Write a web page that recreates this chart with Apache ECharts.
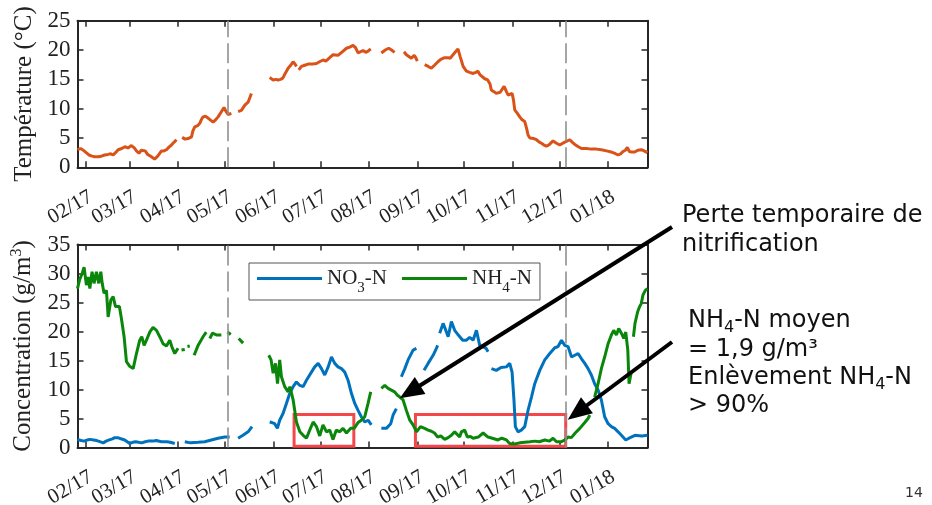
<!DOCTYPE html>
<html><head><meta charset="utf-8">
<script src="https://cdn.jsdelivr.net/npm/echarts@6/dist/echarts.min.js"></script>
<style>html,body{margin:0;padding:0;background:#fff}#c{width:932px;height:505px}</style>
</head><body><div id="c"></div>
<script>
// x values are days counted from 1 Feb 2017
const monthTickDays = [0, 28, 59, 89, 120, 150, 181, 212, 242, 273, 303, 334];
const monthTickLabels = ['02/17','03/17','04/17','05/17','06/17','07/17','08/17','09/17','10/17','11/17','12/17','01/18'];
const eventDays = [91, 307];
const boxDays = [[133.2, 171.4], [210.8, 306.9]];
const boxValues = [0.2, 5.7];
const arrowTips = [[200.8, 8.5], [308.2, 4.8]];

const tempData = [[-5.3,3.0],[-3.4,3.2],[-1.5,2.9],[-0.5,2.6],[2,2.1],[4,1.9],[5.7,1.8],[8,1.8],[10,1.9],[12,2.1],[14.3,2.2],[16,2.3],[17.5,2.1],[19,2.5],[20.7,3.0],[23,3.2],[25,3.5],[27,3.3],[29.2,3.7],[31,3.3],[32.4,2.8],[34,2.4],[35.5,2.9],[36.6,3.2],[38,2.8],[39.5,2.2],[42,1.8],[44,1.4],[46,1.9],[48.4,2.8],[50,2.8],[51.6,3.0],[53,3.4],[54.8,3.8],[56.5,4.3],[58,4.7],[59,null],[61.6,5.1],[63.5,4.8],[65.4,4.9],[67.6,5.2],[68.5,6.2],[69.7,6.9],[71.5,7.1],[72.9,7.5],[74,8.2],[75,8.6],[76.5,8.7],[78.2,8.4],[80,8.0],[81.4,7.7],[83,8.1],[84.6,8.6],[86.5,9.4],[88.4,10.2],[89.5,9.6],[91,9.0],[93.1,9.2],[95,null],[97.4,9.5],[99.5,9.7],[101.7,10.6],[103.8,11.1],[105.9,12.6],[107,null],[117.6,15.3],[119.8,14.9],[121.5,15.0],[123,14.9],[124.5,15.0],[126,15.2],[127.5,16.0],[129.4,16.9],[131,17.4],[132.6,18.0],[133.8,17.6],[134.7,17.2],[135.5,null],[136.2,16.6],[137.9,17.2],[140,17.4],[142.2,17.6],[145,17.6],[147.5,17.7],[149.5,18.0],[151.7,18.3],[153.5,18.1],[156,18.7],[158.1,19.2],[161.3,19.1],[164,19.7],[166.7,20.3],[168.8,20.5],[170.9,20.8],[172.5,20.4],[174.1,19.5],[175.5,19.7],[177.3,19.9],[179,19.6],[180.5,19.8],[182.2,20.2],[183.5,null],[189,19.5],[191.5,20.0],[193.7,20.3],[195.5,20.0],[197.5,19.6],[199,null],[203.5,19.7],[205,19.2],[206,18.9],[208.2,18.6],[210,19.1],[211,18.7],[212,18.1],[213.5,null],[216.7,17.5],[219,17.2],[221,16.9],[223,17.4],[225.2,18.0],[227,18.4],[229.5,18.7],[231.5,18.7],[233,18.6],[235.5,19.4],[238,20.2],[239.5,18.8],[241.3,17.2],[243.4,16.4],[245.5,16.2],[247.7,16.0],[249.5,16.2],[250.8,16.4],[252,15.8],[253,15.5],[255.1,15.1],[257,14.9],[258.5,14.2],[259.3,13.2],[261,12.9],[262.5,12.6],[265,12.8],[267.5,13.8],[269,12.9],[270.1,12.3],[272.6,12.6],[273.5,11.5],[274.3,9.8],[276,9.2],[277.5,8.6],[279,8.1],[280.7,7.8],[282,6.5],[282.8,5.5],[284,5.0],[285,4.9],[286.5,4.9],[288.2,4.7],[290,4.3],[291.4,4.1],[293,3.8],[294.6,3.6],[296.5,3.9],[298.8,4.5],[301,4.1],[303.1,3.8],[305,4.1],[306.3,4.3],[307.5,4.4],[309.5,4.7],[311,4.3],[312.7,3.9],[315,3.5],[317,3.2],[320,3.2],[323.3,3.1],[326.5,3.1],[329.7,3.0],[333,2.8],[336.1,2.6],[338,2.4],[340.4,2.1],[342,2.3],[343.6,2.7],[345,2.9],[346.3,3.4],[347.5,2.7],[349,2.6],[351,2.6],[353,2.9],[355.3,3.0],[357,2.8],[358.5,2.6],[359.2,2.5]];

const no3Data = [[-5.3,1.4],[-3,1.2],[-1,1.1],[1,1.3],[2.6,1.4],[5,1.3],[7,1.2],[9,1.0],[11.1,0.8],[13,1.1],[15,1.3],[17,1.5],[18.5,1.7],[20.5,1.7],[22.5,1.5],[24.9,1.3],[26.5,1.0],[28.1,0.7],[30,0.9],[32,1.0],[35.6,0.8],[38,1.0],[39.8,1.1],[43,1.1],[45,1.2],[48.4,1.0],[52,1.0],[54,0.9],[56.9,0.7],[58.5,null],[63.3,1.0],[67,0.8],[71.8,0.9],[76,1.0],[80.3,1.3],[84.6,1.6],[88.9,1.8],[92,1.8],[94,null],[97.4,1.6],[100.5,2.1],[103.8,2.7],[106.3,3.6],[107.5,null],[117.6,4.4],[119,4.3],[120.8,4.1],[122.5,3.3],[124,4.7],[126.2,5.9],[128.3,7.6],[130.4,9.3],[132.6,10.5],[134.7,11.3],[136.9,10.7],[139,10.5],[141.1,11.6],[144.3,13.0],[146.4,13.9],[148.6,14.5],[150.7,13.6],[152.8,12.5],[155,13.9],[157.1,15.6],[159.2,14.5],[161.3,13.9],[163.5,13.6],[165.6,13.0],[167.7,11.6],[169.9,9.3],[172,7.6],[174.1,6.4],[176.2,5.3],[178.4,4.4],[180.5,4.7],[182.6,3.9],[184,null],[189,3.3],[192.2,3.3],[195,4.1],[196.5,5.6],[198.6,6.7],[200,null],[201.8,12.2],[204,13.6],[206.1,15.1],[209.3,16.8],[211.4,17.1],[213,null],[216.3,13.3],[218.9,14.5],[222.1,15.9],[224.2,17.1],[225,17.6],[225.7,null],[226.3,19.7],[228.5,21.4],[229.8,20.5],[231.7,19.1],[233.8,21.7],[235.9,20.2],[238.5,19.3],[241,18.5],[243.4,18.5],[245.5,19.0],[247.7,18.5],[249.8,20.2],[251.9,17.6],[254,17.4],[256,17.1],[257.2,16.5],[258.3,null],[259.4,13.6],[262.5,13.3],[265.5,13.8],[269,13.9],[271.1,14.5],[272.6,13.0],[273.8,8.2],[274.7,3.6],[276.4,2.7],[278.5,3.0],[280.7,3.6],[282.8,6.4],[285,8.7],[287.1,11.0],[290.3,13.3],[293.5,15.1],[296.7,16.2],[299.9,17.2],[302,17.4],[304.2,18.5],[306.3,17.6],[308.4,17.4],[310.6,15.6],[312.7,15.9],[314.8,16.2],[317,15.3],[319.1,14.5],[321.2,13.6],[323.3,12.5],[325.4,11.0],[327.6,9.9],[329.7,8.2],[331.8,5.3],[334,4.1],[336.1,3.6],[338.2,3.3],[340.4,2.7],[342.5,2.1],[345.3,1.3],[347.4,1.6],[351.2,2.1],[355.5,2.0],[359.2,2.1]];

const nh4Data = [[-5.3,27.4],[-4,28.9],[-2.3,30.0],[-1.1,31.1],[0.4,28.0],[1.5,29.4],[2.6,27.4],[4,30.3],[5.3,28.3],[6.8,30.3],[8.3,28.3],[9.6,30.3],[10.5,28.3],[11.7,26.6],[13.2,27.1],[14.3,22.5],[16,25.4],[17.5,26.0],[19,24.3],[20.2,24.0],[21.5,24.3],[22.8,22.2],[24.5,19.1],[26,14.8],[28.1,14.0],[30.3,13.6],[32.4,16.2],[34.5,18.5],[35.8,19.1],[37.3,17.6],[38.8,18.5],[40.9,19.9],[43,20.7],[45.2,20.2],[47.3,19.1],[49.4,17.9],[51.6,17.5],[53.7,18.5],[55,17.4],[56.9,16.2],[59,17.1],[60,null],[61.2,16.8],[63.3,16.9],[64,null],[65,17.4],[66.5,17.5],[67.5,null],[69.3,15.9],[71.8,17.6],[75,19.1],[77,19.9],[78,null],[79.3,18.8],[81,19.7],[83.5,19.4],[86.7,19.4],[88,null],[90.6,19.9],[92.7,19.5],[94,null],[97.8,18.8],[100.6,18.0],[102,null],[117,15.9],[118.5,15.1],[119.8,12.8],[121.3,14.5],[122.6,11.0],[124,15.1],[125.1,12.2],[127.2,10.5],[129.4,9.6],[130.5,10.5],[132.6,8.2],[134.7,4.4],[136.9,2.7],[139,2.1],[141.1,1.6],[143.2,3.0],[145.4,4.4],[147.5,3.6],[149.6,2.0],[151.7,3.9],[153.9,2.7],[156,3.0],[158.1,1.4],[160.2,3.0],[162.4,2.7],[164.5,3.3],[166.7,2.5],[169.4,3.3],[171.6,3.3],[174.1,4.3],[176.2,4.7],[178.4,5.3],[180.5,7.6],[182.2,9.6],[183.5,null],[189,10.2],[191.2,10.7],[193.3,10.2],[195.4,9.9],[197.5,9.6],[199.3,9.0],[200.8,8.7],[202.9,8.2],[205,6.4],[207.2,4.7],[209.3,3.9],[211.5,2.7],[214,3.6],[216.7,3.3],[218.9,3.0],[221,2.8],[223,2.5],[225,1.8],[227,2.0],[229.5,1.4],[231.7,1.7],[233.8,2.1],[235.9,2.7],[237,2.4],[239.1,1.8],[240.2,2.7],[242.3,3.0],[244,1.8],[246,1.9],[247.7,1.6],[251,1.8],[254.1,2.5],[257.2,1.8],[260,1.6],[263.6,1.3],[266,1.6],[269,1.3],[271,0.7],[274.3,0.6],[277.5,0.8],[280.7,0.9],[284,1.0],[287.1,1.1],[290,1.0],[293.5,1.3],[296.5,1.1],[298.8,1.6],[301,1.0],[304.2,1.0],[306.3,1.3],[308.4,1.8],[310.5,1.7],[312.7,2.4],[315.9,3.3],[319.1,4.3],[321.2,5.0],[322.3,5.6],[323.5,null],[325.4,8.7],[327.6,11.0],[329.7,13.6],[331.8,15.6],[334,17.9],[336.1,19.4],[337.6,20.2],[339.3,19.4],[340.8,20.5],[342.5,19.7],[344,18.8],[345.3,19.9],[346.6,16.8],[347.4,11.0],[348.7,12.8],[349.5,null],[350.2,19.1],[351.2,21.4],[352.9,23.4],[354.2,24.3],[355.2,24.8],[356.3,26.3],[357.8,27.1],[359.2,27.4]];

const SERIF = 'Liberation Serif';
const SANS = 'DejaVu Sans';
const AX = '#262626';
const X_MIN = -5.3, X_MAX = 359.2;

function xAxes(gridIndex, withLabels) {
  const common = {
    type: 'value', gridIndex, min: X_MIN, max: X_MAX,
    axisLine: { show: true, onZero: false, lineStyle: { color: AX, width: 2 } },
    axisTick: { show: true, inside: true, length: 6, customValues: monthTickDays, lineStyle: { color: AX, width: 1.5 } },
    splitLine: { show: false }
  };
  return [
    Object.assign({}, common, {
      position: 'bottom',
      axisLabel: withLabels ? {
        show: true, customValues: monthTickDays, rotate: 30, margin: 19,
        align: 'right', verticalAlign: 'top',
        fontFamily: SERIF, fontSize: 21, color: '#222',
        formatter: v => monthTickLabels[monthTickDays.indexOf(v)] || ''
      } : { show: false }
    }),
    Object.assign({}, common, { position: 'top', axisLabel: { show: false } })
  ];
}
function yAxes(gridIndex, max, name, rich) {
  const common = {
    type: 'value', gridIndex, min: 0, max, interval: 5,
    axisLine: { show: true, onZero: false, lineStyle: { color: AX, width: 2 } },
    axisTick: { show: true, inside: true, length: 6, lineStyle: { color: AX, width: 1.5 } },
    splitLine: { show: false }
  };
  return [
    Object.assign({}, common, {
      position: 'left',
      axisLabel: { show: true, margin: 7, fontFamily: SERIF, fontSize: 23, color: '#222' },
      name, nameLocation: 'middle', nameGap: 40, nameRotate: 90,
      nameTextStyle: Object.assign({ fontFamily: SERIF, fontSize: 25, color: '#222' }, rich ? { rich } : {})
    }),
    Object.assign({}, common, { position: 'right', axisLabel: { show: false } })
  ];
}

const dashed = {
  symbol: 'none', silent: true, label: { show: false },
  emphasis: { disabled: true },
  lineStyle: { color: '#909090', type: [20, 6], width: 1.6 },
  data: eventDays.map(d => ({ xAxis: d }))
};

const chart = echarts.init(document.getElementById('c'), null, { renderer: 'canvas' });
chart.setOption({
  animation: false,
  backgroundColor: '#fff',
  grid: [
    { left: 77.5, top: 20.7, width: 570, height: 146.6, containLabel: false, outerBoundsMode: 'none' },
    { left: 77.5, top: 244.5, width: 570, height: 203, containLabel: false, outerBoundsMode: 'none' }
  ],
  xAxis: [].concat(xAxes(0, true), xAxes(1, true)),
  yAxis: [].concat(
    yAxes(0, 25, 'Température (°C)'),
    yAxes(1, 35, '{a|Concentration (g/m}{b|3}{a|)}', {
      a: { fontFamily: SERIF, fontSize: 25, color: '#222' },
      b: { fontFamily: SERIF, fontSize: 16, color: '#222', padding: [0, 0, 13, 0] }
    })
  ),
  legend: {
    left: 249, top: 263, orient: 'horizontal', selectedMode: false,
    data: ['NO3-N', 'NH4-N'],
    icon: 'rect', itemWidth: 65, itemHeight: 3, itemGap: 15,
    padding: [5, 8, 4, 8],
    borderColor: '#555', borderWidth: 1, backgroundColor: '#fff',
    formatter: n => n === 'NO3-N' ? '{n|NO}{s|3}{n|-N}' : '{n|NH}{s|4}{n|-N}',
    textStyle: {
      rich: {
        n: { fontFamily: SERIF, fontSize: 21, color: '#222' },
        s: { fontFamily: SERIF, fontSize: 15, color: '#222', padding: [20, 0, 0, 0] }
      }
    }
  },
  series: [
    {
      name: 'Température', type: 'line', xAxisIndex: 0, yAxisIndex: 0,
      data: tempData, symbol: 'none', connectNulls: false,
      color: '#d95319', lineStyle: { color: '#d95319', width: 3 },
      markLine: dashed
    },
    {
      name: 'NO3-N', type: 'line', xAxisIndex: 2, yAxisIndex: 2,
      data: no3Data, symbol: 'none', connectNulls: false,
      color: '#0072bd', lineStyle: { color: '#0072bd', width: 3 },
      markLine: dashed
    },
    {
      name: 'NH4-N', type: 'line', xAxisIndex: 2, yAxisIndex: 2,
      data: nh4Data, symbol: 'none', connectNulls: false,
      color: '#0a870a', lineStyle: { color: '#0a870a', width: 3 },
      markArea: {
        silent: true, emphasis: { disabled: true },
        itemStyle: { color: 'rgba(0,0,0,0)', borderColor: '#f5474a', borderWidth: 3 },
        data: boxDays.map(b => [{ coord: [b[0], boxValues[0]] }, { coord: [b[1], boxValues[1]] }])
      }
    }
  ]
});

function arrow(sx, sy, t) {
  const tx = t[0], ty = t[1];
  const dx = tx - sx, dy = ty - sy, len = Math.hypot(dx, dy);
  const ux = dx / len, uy = dy / len, L = 24, W = 10;
  const bx = tx - ux * L, by = ty - uy * L;
  return [
    { type: 'line', z: 100, shape: { x1: sx, y1: sy, x2: bx + ux * 2, y2: by + uy * 2 }, style: { stroke: '#000', lineWidth: 4 } },
    { type: 'polygon', z: 100, shape: { points: [[tx, ty], [bx - uy * W, by + ux * W], [bx + uy * W, by - ux * W]] }, style: { fill: '#000' } }
  ];
}
const tip1 = chart.convertToPixel({ seriesIndex: 2 }, arrowTips[0]);
const tip2 = chart.convertToPixel({ seriesIndex: 2 }, arrowTips[1]);
const annRich = {
  a: { fontFamily: SANS, fontSize: 24, color: '#111' },
  s: { fontFamily: SANS, fontSize: 16, color: '#111', padding: [14, 0, 0, 0] }
};
function txt(x, y, text) {
  return { type: 'text', x, y, z: 100, style: { text, rich: annRich, fontFamily: SANS, fontSize: 24, fill: '#111', align: 'left', verticalAlign: 'middle' } };
}
chart.setOption({
  graphic: [].concat(
    arrow(672, 227, tip1),
    arrow(672, 342, tip2),
    [
      txt(682, 216, '{a|Perte temporaire de}'),
      txt(682, 245, '{a|nitrification}'),
      txt(688, 321, '{a|NH}{s|4}{a|-N moyen}'),
      txt(688, 350, '{a|= 1,9 g/m³}'),
      txt(688, 378, '{a|Enlèvement NH}{s|4}{a|-N}'),
      txt(688, 406, '{a|> 90%}'),
      { type: 'text', x: 905, y: 493, z: 100, style: { text: '14', fontFamily: SANS, fontSize: 14, fill: '#333', align: 'left', verticalAlign: 'middle' } }
    ]
  )
});
</script>
</body></html>
